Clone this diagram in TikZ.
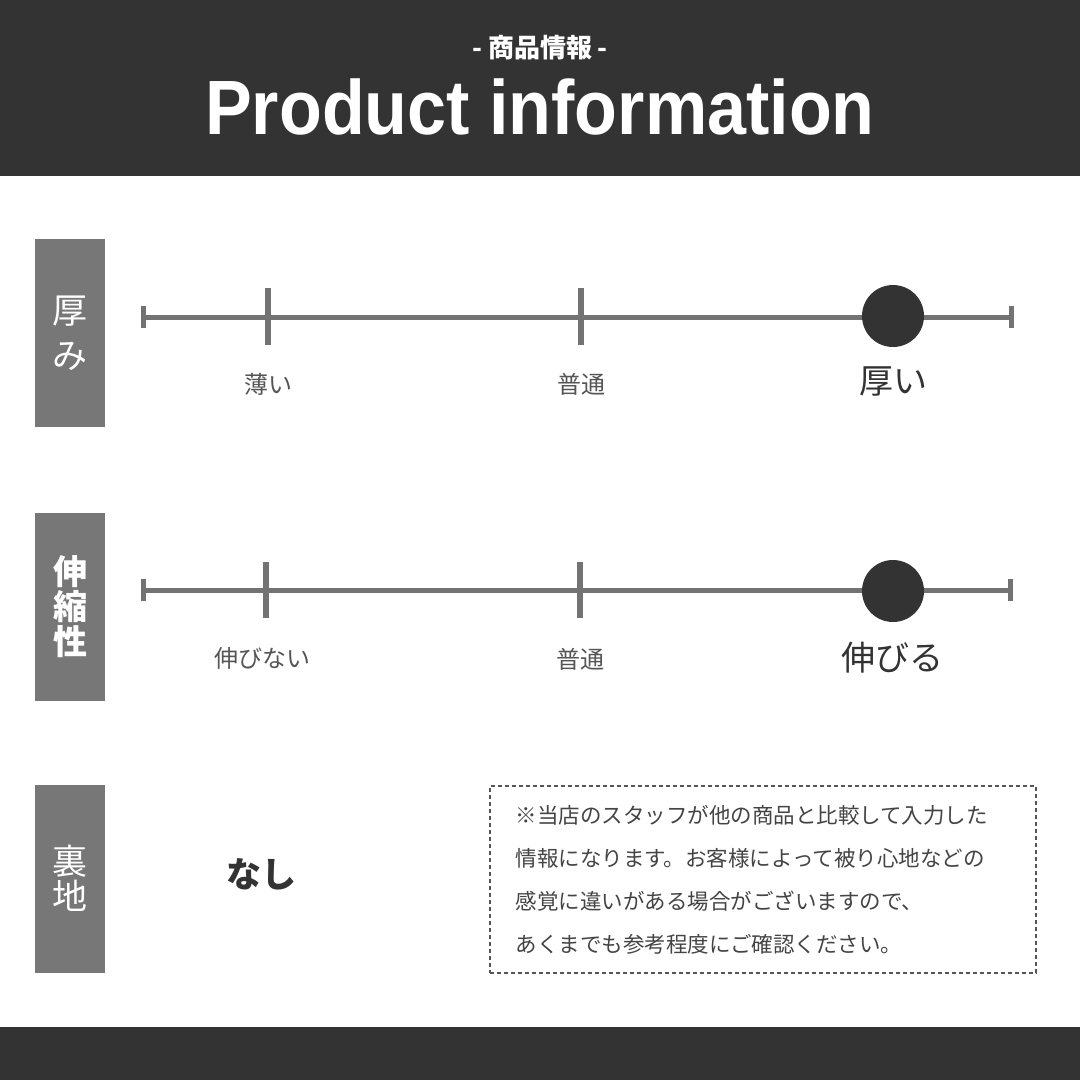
\documentclass[tikz,border=0pt]{standalone}
\usepackage{fontspec}
\setmainfont{Liberation Sans}
\newfontfamily\titlefont[FakeStretch=0.91]{Liberation Sans}
\newfontfamily\jpfont{Noto Sans CJK JP}
\usetikzlibrary{positioning}
\definecolor{darkbar}{HTML}{333333}
\definecolor{tabgray}{HTML}{777777}
\definecolor{scalegray}{HTML}{737373}
\definecolor{labelgray}{HTML}{555555}
\definecolor{notegray}{HTML}{444444}

\begin{document}
\begin{tikzpicture}[x=1pt, y=-1pt,
    tab/.style={fill=tabgray, text=white, inner sep=0pt, minimum width=70pt, minimum height=188pt, align=center},
    axis/.style={draw=scalegray, line width=5pt},
    tickline/.style={draw=scalegray, line width=6pt},
    dot/.style={circle, fill=darkbar, minimum size=62pt, inner sep=0pt},
    small label/.style={text=labelgray, inner sep=0pt, font=\jpfont\fontsize{24}{24}\selectfont},
    big label/.style={text=darkbar, inner sep=0pt, font=\jpfont\fontsize{34}{34}\selectfont}]
    \useasboundingbox (0, 0) rectangle (1080, 1080);
    \fill [white] (0, 0) rectangle (1080, 1080);

    % header and footer
    \fill [darkbar] (0, 0) rectangle (1080, 176);
    \fill [darkbar] (0, 1027) rectangle (1080, 1080);
    \node [text=white, font=\jpfont\bfseries\fontsize{26}{26}\selectfont] (subtitle) at (540, 48) {- 商品情報 -};
    \node [text=white, font=\titlefont\bfseries\fontsize{77}{77}\selectfont] (title) at (540, 107) {Product information};

    % side tabs
    \node [tab, font=\jpfont\fontsize{35}{45}\selectfont] (tab1) at (70, 333) {厚\\み};
    \node [tab, font=\jpfont\bfseries\fontsize{34}{35}\selectfont] (tab2) at (70, 607) {伸\\縮\\性};
    \node [tab, font=\jpfont\fontsize{35}{35}\selectfont] (tab3) at (70, 878.5) {裏\\地};

    % thickness scale
    \coordinate (s1l) at (143, 317);
    \coordinate (s1r) at (1011, 317);
    \coordinate (s1a) at (268, 317);
    \coordinate (s1b) at (581, 317);
    \draw [axis] (s1l) -- (s1r);
    \draw [axis] ([yshift=11pt]s1l) -- ([yshift=-11pt]s1l);
    \draw [axis] ([yshift=11pt]s1r) -- ([yshift=-11pt]s1r);
    \draw [tickline] ([yshift=29pt]s1a) -- ([yshift=-28pt]s1a);
    \draw [tickline] ([yshift=29pt]s1b) -- ([yshift=-28pt]s1b);
    \node [dot] (d1) at (893, 316) {};
    \node [small label] (l1a) at (268, 384) {薄い};
    \node [small label] (l1b) at (581, 384) {普通};
    \node [big label] (l1c) at (893, 381) {厚い};

    % stretch scale
    \coordinate (s2l) at (143, 590);
    \coordinate (s2r) at (1010, 590);
    \coordinate (s2a) at (266, 590);
    \coordinate (s2b) at (580, 590);
    \draw [axis] (s2l) -- (s2r);
    \draw [axis] ([yshift=11pt]s2l) -- ([yshift=-11pt]s2l);
    \draw [axis] ([yshift=11pt]s2r) -- ([yshift=-11pt]s2r);
    \draw [tickline] ([yshift=28pt]s2a) -- ([yshift=-28pt]s2a);
    \draw [tickline] ([yshift=28pt]s2b) -- ([yshift=-28pt]s2b);
    \node [dot] (d2) at (893, 591) {};
    \node [small label] (l2a) at (262, 658) {伸びない};
    \node [small label] (l2b) at (580, 659) {普通};
    \node [big label] (l2c) at (892, 658) {伸びる};

    % lining
    \node [big label, font=\jpfont\bfseries\fontsize{35}{35}\selectfont] (lining) at (261, 874) {なし};

    \node [draw=labelgray, line width=1.2pt, dash pattern=on 4pt off 3pt, minimum width=546pt, minimum height=187pt] (note) at (763, 879.5) {};
    \node [anchor=west, inner sep=0pt, align=left, text=notegray, font=\jpfont\fontsize{21.5}{43}\selectfont] (notetext) at ([xshift=26pt]note.west)
      {※当店のスタッフが他の商品と比較して入力した\\情報になります。お客様によって被り心地などの\\感覚に違いがある場合がございますので、\\あくまでも参考程度にご確認ください。};
  \end{tikzpicture}
\end{document}
